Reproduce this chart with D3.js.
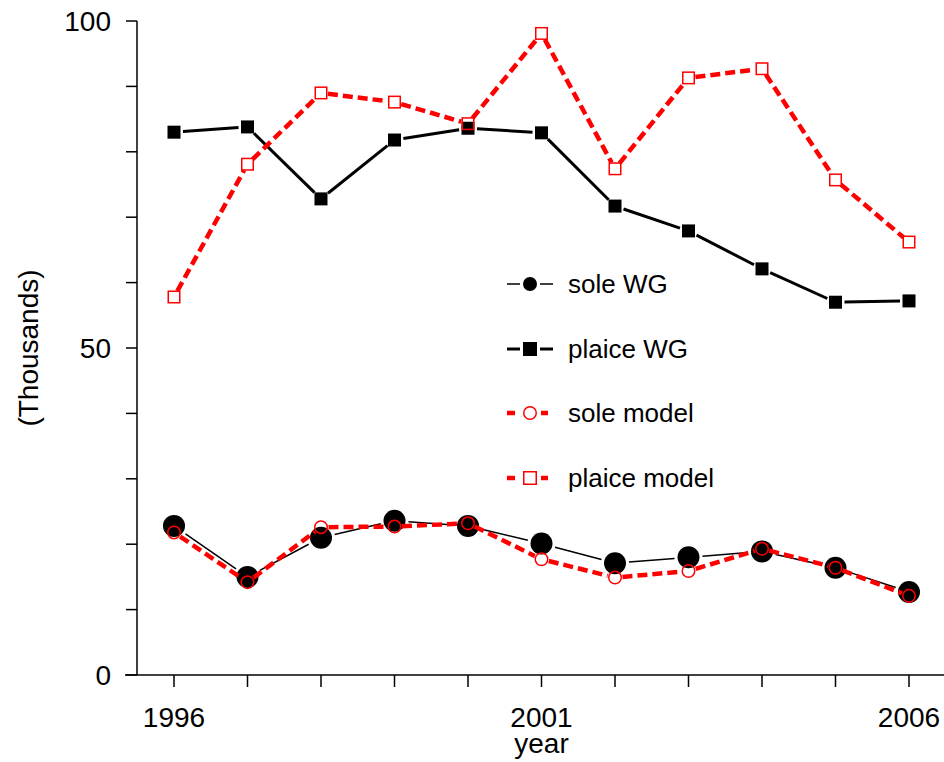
<!DOCTYPE html>
<html>
<head>
<meta charset="utf-8">
<script src="https://cdn.jsdelivr.net/npm/d3@7"></script>
<style>
  html, body { margin: 0; padding: 0; background: #fff; }
  svg { display: block; font-family: "Liberation Sans", Arial, sans-serif; }
</style>
</head>
<body>
<svg id="chart" width="944" height="762"></svg>
<script>
// Survey (WG) and model estimates of sole and plaice, in thousands
const years = [1996, 1997, 1998, 1999, 2000, 2001, 2002, 2003, 2004, 2005, 2006];
const soleWG     = [22.8, 15.0, 21.0, 23.6, 22.8, 20.1, 17.1, 18.0, 18.9, 16.4, 12.7];
const plaiceWG   = [83.0, 83.8, 72.8, 81.8, 83.6, 82.9, 71.7, 67.9, 62.1, 57.0, 57.2];
const soleModel  = [21.8, 14.2, 22.6, 22.7, 23.2, 17.7, 14.9, 15.9, 19.3, 16.4, 12.1];
const plaiceModel= [57.8, 78.1, 89.0, 87.6, 84.3, 98.1, 77.4, 91.3, 92.7, 75.7, 66.2];
const yTicks = [0, 10, 20, 30, 40, 50, 60, 70, 80, 90, 100];
const yLabels = [0, 50, 100];
const xLabels = [1996, 2001, 2006];

const series = [
  { name: "sole WG",      values: soleWG,      color: "#000", shape: "circle", fill: true,  r: 11,  lr: 7,   width: 1.5, dash: null,   gap: 3 },
  { name: "plaice WG",    values: plaiceWG,    color: "#000", shape: "square", fill: true,  r: 6.5, lr: 7,   width: 3,   dash: null,   gap: 2.5 },
  { name: "sole model",   values: soleModel,   color: "#f00", shape: "circle", fill: false, r: 7,   lr: 7,   width: 4.5, dash: "10,5", gap: 0.5 },
  { name: "plaice model", values: plaiceModel, color: "#f00", shape: "square", fill: false, r: 6.5, lr: 7,   width: 4.5, dash: "10,5", gap: 0.5 }
];

const svg = d3.select("#chart");
const x = d3.scaleLinear().domain([1996, 2006]).range([174, 909]);
const y = d3.scaleLinear().domain([0, 100]).range([675, 21]);

// Axes
const xAxisG = svg.append("g").attr("transform", "translate(0,675)");
xAxisG.append("line").attr("x1", 125).attr("x2", 944).attr("y1", 0).attr("y2", 0)
  .attr("stroke", "#000").attr("stroke-width", 1.5);
xAxisG.selectAll("line.tick").data(years).join("line").attr("class", "tick")
  .attr("x1", d => x(d)).attr("x2", d => x(d)).attr("y1", 0).attr("y2", 12)
  .attr("stroke", "#000").attr("stroke-width", 1.5);
xAxisG.selectAll("text").data(xLabels).join("text")
  .attr("x", d => x(d)).attr("y", 52).attr("text-anchor", "middle")
  .attr("font-size", 28).text(d => d);

const yAxisG = svg.append("g").attr("transform", "translate(137,0)");
yAxisG.append("line").attr("x1", 0).attr("x2", 0).attr("y1", y(100)).attr("y2", y(0))
  .attr("stroke", "#000").attr("stroke-width", 1.5);
yAxisG.selectAll("line.tick").data(yTicks).join("line").attr("class", "tick")
  .attr("x1", -11).attr("x2", 0).attr("y1", d => y(d)).attr("y2", d => y(d))
  .attr("stroke", "#000").attr("stroke-width", 1.5);
yAxisG.selectAll("text").data(yLabels).join("text")
  .attr("x", -26).attr("y", d => y(d) + 10).attr("text-anchor", "end")
  .attr("font-size", 28).text(d => d);

svg.append("text").attr("transform", `translate(38,${y(50)}) rotate(-90)`)
  .attr("text-anchor", "middle").attr("font-size", 28).text("(Thousands)");
svg.append("text").attr("x", x(2001)).attr("y", 753).attr("text-anchor", "middle")
  .attr("font-size", 28).text("year");

// Lines between points, broken off short of each marker
function segments(s) {
  const pts = s.values.map((v, i) => [x(years[i]), y(v)]);
  const segs = [];
  for (let i = 0; i < pts.length - 1; i++) {
    const [x0, y0] = pts[i], [x1, y1] = pts[i + 1];
    const dx = x1 - x0, dy = y1 - y0, len = Math.hypot(dx, dy);
    const cut = s.r + s.gap;
    if (len <= 2 * cut) continue;
    segs.push([x0 + dx * cut / len, y0 + dy * cut / len, x1 - dx * cut / len, y1 - dy * cut / len]);
  }
  return segs;
}

function drawMarker(g, s, cx, cy, r) {
  if (s.shape === "circle") {
    g.append("circle").attr("cx", cx).attr("cy", cy).attr("r", s.fill ? r : r - 0.75)
      .attr("fill", s.fill ? s.color : "none")
      .attr("stroke", s.fill ? "none" : s.color).attr("stroke-width", 1.5);
  } else {
    const h = s.fill ? r : r - 0.75;
    g.append("rect").attr("x", cx - h).attr("y", cy - h).attr("width", 2 * h).attr("height", 2 * h)
      .attr("fill", s.fill ? s.color : "none")
      .attr("stroke", s.fill ? "none" : s.color).attr("stroke-width", 1.5);
  }
}

series.forEach(s => {
  const g = svg.append("g");
  g.selectAll("line").data(segments(s)).join("line")
    .attr("x1", d => d[0]).attr("y1", d => d[1]).attr("x2", d => d[2]).attr("y2", d => d[3])
    .attr("stroke", s.color).attr("stroke-width", s.width)
    .attr("stroke-dasharray", s.dash);
  s.values.forEach((v, i) => drawMarker(g, s, x(years[i]), y(v), s.r));
});

// Legend
const legend = svg.append("g");
const legendY = [284, 349, 413, 478];
series.forEach((s, i) => {
  const ly = legendY[i], cx = 530;
  const g = legend.append("g");
  const leftStart = 507, rightEnd = s.dash ? 548 : 553;
  const leftEnd = s.dash ? 515 : 520, rightStart = s.dash ? 541 : 540;
  g.append("line").attr("x1", leftStart).attr("x2", leftEnd).attr("y1", ly).attr("y2", ly)
    .attr("stroke", s.color).attr("stroke-width", s.width);
  g.append("line").attr("x1", rightStart).attr("x2", rightEnd).attr("y1", ly).attr("y2", ly)
    .attr("stroke", s.color).attr("stroke-width", s.width);
  drawMarker(g, s, cx, ly, s.lr);
  g.append("text").attr("x", 568).attr("y", ly + 9).attr("font-size", 26).text(s.name);
});
</script>
</body>
</html>
